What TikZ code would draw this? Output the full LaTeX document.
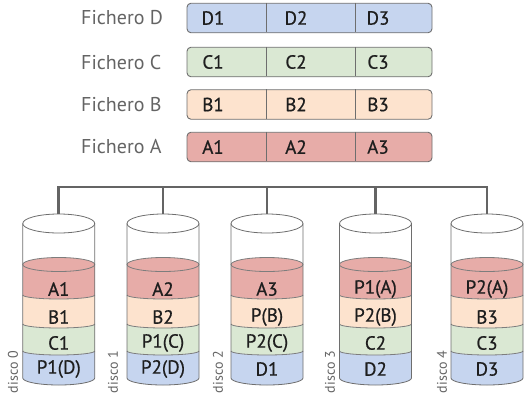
\documentclass[tikz,border=0pt]{standalone}
\usepackage{fontspec}
\setmainfont{PT Sans}
\newfontfamily\cellfont{PT Sans}[FakeBold=0.6]
\definecolor{redF}{RGB}{231,172,168}
\definecolor{orangeF}{RGB}{253,227,206}
\definecolor{greenF}{RGB}{218,232,211}
\definecolor{blueF}{RGB}{198,213,239}
\definecolor{txt}{RGB}{30,30,30}
\definecolor{lbl}{RGB}{100,100,100}
\definecolor{edge}{RGB}{110,110,110}
\definecolor{sep}{RGB}{125,125,125}
\definecolor{busc}{RGB}{100,100,100}
\begin{document}
\begin{tikzpicture}[x=1pt,y=1pt,
  bar/.style={draw=edge, line width=0.9pt, rounded corners=4pt, minimum width=245pt, minimum height=29.5pt, inner sep=0pt},
  cell/.style={font=\cellfont\fontsize{19}{21}\selectfont, text=txt, inner sep=0pt},
  flabel/.style={font=\fontsize{20}{22}\selectfont, text=lbl, anchor=west, inner sep=0pt},
  disc/.style={font=\fontsize{14}{16}\selectfont, text=lbl, rotate=90, inner sep=0pt},
  bus/.style={draw=busc, line width=2.6pt},
  cylline/.style={draw=edge, line width=0.8pt},
  sepline/.style={draw=sep, line width=0.8pt}]
\useasboundingbox (0,0) rectangle (528,-400);

% ---- file bars ----
\foreach \n/\y/\col/\L in {D/-18/blueF/D, C/-62/greenF/C, B/-104.5/orangeF/B, A/-147/redF/A}{
  \node[flabel] (lab\n) at (81,\y) {Fichero \L};
  \node[bar, fill=\col] (bar\n) at (309.5,\y) {};
  \draw[edge, line width=0.9pt] (bar\n.north west) ++(80,0) -- ++(0,-29.5);
  \draw[edge, line width=0.9pt] (bar\n.north west) ++(169,0) -- ++(0,-29.5);
  \node[cell] (c\n1) at (213,\y) {\L1};
  \node[cell] (c\n2) at (296,\y) {\L2};
  \node[cell] (c\n3) at (378,\y) {\L3};
}

% ---- disks ----
\foreach \i/\cx/\ta/\tb/\tc/\td/\lx in {
  0/58.75/A1/B1/C1/{P1(D)}/13,
  1/163/A2/B2/{P1(C)}/{P2(D)}/113,
  2/267/A3/{P(B)}/{P2(C)}/D1/218,
  3/375.5/{P1(A)}/{P2(B)}/C2/D2/330,
  4/487/{P2(A)}/B3/C3/D3/442}{
  % body
  \fill[white] (\cx-36,-223.5) -- (\cx-36,-378) arc[start angle=180,end angle=360,x radius=36,y radius=7] -- (\cx+36,-223.5) -- cycle;
  % layers
  \fill[redF] (\cx-36,-264.5) -- (\cx-36,-295) arc[start angle=180,end angle=360,x radius=36,y radius=4] -- (\cx+36,-264.5) arc[start angle=0,end angle=180,x radius=36,y radius=7] -- cycle;
  \fill[orangeF] (\cx-36,-295) arc[start angle=180,end angle=360,x radius=36,y radius=4] -- (\cx+36,-324) arc[start angle=360,end angle=180,x radius=36,y radius=4] -- cycle;
  \fill[greenF] (\cx-36,-324) arc[start angle=180,end angle=360,x radius=36,y radius=4] -- (\cx+36,-351) arc[start angle=360,end angle=180,x radius=36,y radius=4] -- cycle;
  \fill[blueF] (\cx-36,-351) arc[start angle=180,end angle=360,x radius=36,y radius=4] -- (\cx+36,-378) arc[start angle=360,end angle=180,x radius=36,y radius=7] -- cycle;
  % separators
  \draw[sepline] (\cx,-264.5) ellipse[x radius=36,y radius=7];
  \draw[sepline] (\cx-36,-295) arc[start angle=180,end angle=360,x radius=36,y radius=4];
  \draw[sepline] (\cx-36,-324) arc[start angle=180,end angle=360,x radius=36,y radius=4];
  \draw[sepline] (\cx-36,-351) arc[start angle=180,end angle=360,x radius=36,y radius=4];
  % outline
  \draw[cylline, fill=white] (\cx,-223.5) ellipse[x radius=36,y radius=9.5];
  \draw[cylline] (\cx-36,-223.5) -- (\cx-36,-378) arc[start angle=180,end angle=360,x radius=36,y radius=7] -- (\cx+36,-223.5);
  % texts
  \node[cell] (d\i a) at (\cx,-289) {\ta};
  \node[cell] (d\i b) at (\cx,-317) {\tb};
  \node[cell] (d\i c) at (\cx,-343) {\tc};
  \node[cell] (d\i d) at (\cx,-369) {\td};
  \node[disc] (disc\i) at (\lx,-372) {disco \i};
  \coordinate (top\i) at (\cx,-214);
  \coordinate (bus\i) at (\cx,-187);
}

% ---- bus ----
\draw[bus, line join=miter] (top0) -- (bus0) -- (bus4) -- (top4);
\foreach \i in {1,2,3}{\draw[bus] (bus\i) -- (top\i);}
\end{tikzpicture}
\end{document}
